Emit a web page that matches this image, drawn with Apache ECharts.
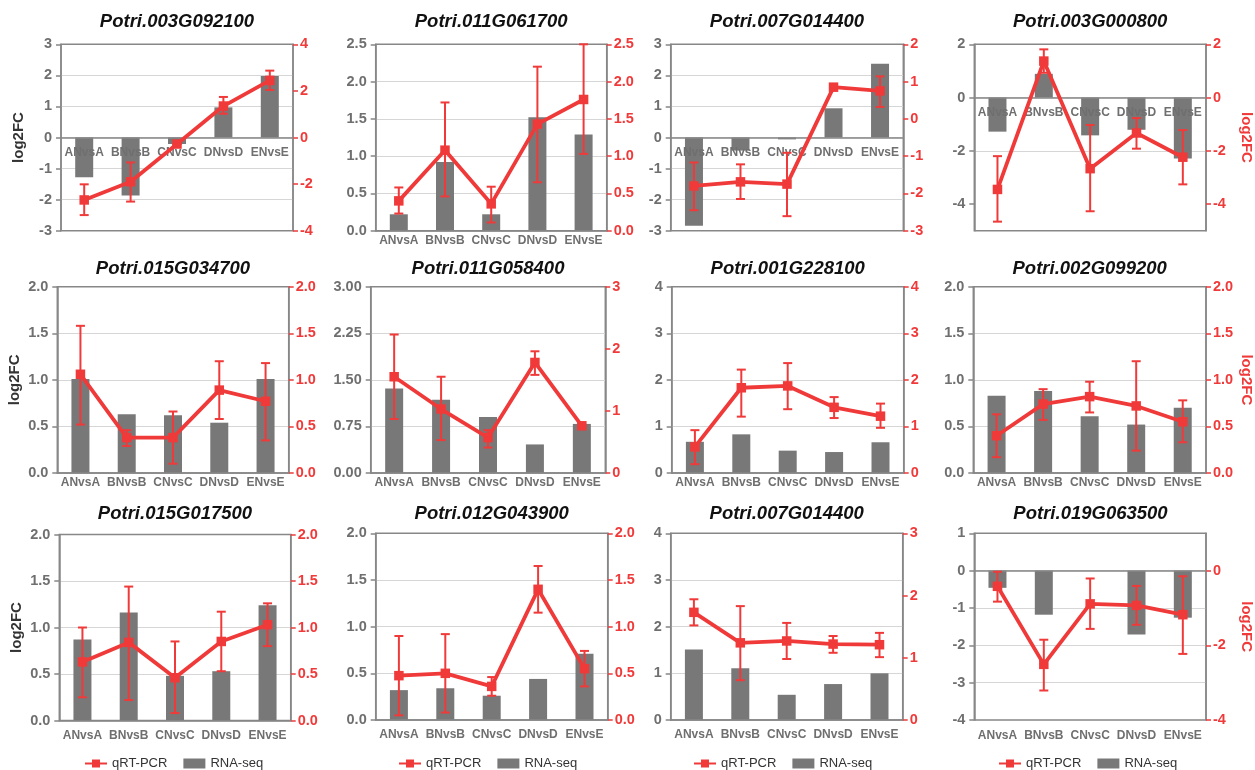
<!DOCTYPE html>
<html><head><meta charset="utf-8">
<script src="https://cdn.jsdelivr.net/npm/echarts@6/dist/echarts.min.js"></script>
<style>html,body{margin:0;padding:0;background:#fff}#c{width:1255px;height:770px}</style>
</head><body><div id="c"></div>
<script>
// ---------------- DATA ----------------
const categories = ['ANvsA', 'BNvsB', 'CNvsC', 'DNvsD', 'ENvsE'];
const titles = [
  'Potri.003G092100', 'Potri.011G061700', 'Potri.007G014400', 'Potri.003G000800',
  'Potri.015G034700', 'Potri.011G058400', 'Potri.001G228100', 'Potri.002G099200',
  'Potri.015G017500', 'Potri.012G043900', 'Potri.007G014400', 'Potri.019G063500'
];
// RNA-seq log2FC (bars, left axis)
const rnaSeq = [
  [-1.28, -1.87, -0.21, 0.97, 1.98],
  [0.22, 0.92, 0.22, 1.52, 1.29],
  [-2.84, -0.42, -0.06, 0.94, 2.37],
  [-1.28, 0.89, -1.42, -1.21, -2.29],
  [1.01, 0.63, 0.62, 0.54, 1.01],
  [1.36, 1.18, 0.90, 0.46, 0.79],
  [0.67, 0.83, 0.48, 0.45, 0.66],
  [0.83, 0.88, 0.61, 0.52, 0.70],
  [0.87, 1.16, 0.48, 0.53, 1.24],
  [0.32, 0.34, 0.26, 0.44, 0.71],
  [1.51, 1.11, 0.54, 0.77, 1.00],
  [-0.46, -1.18, 0, -1.71, -1.26]
];
// qRT-PCR log2FC (line, right axis)
const qrtPcr = [
  [-2.68, -1.90, -0.28, 1.35, 2.45],
  [0.40, 1.08, 0.36, 1.43, 1.76],
  [-1.80, -1.69, -1.75, 0.85, 0.75],
  [-3.45, 1.37, -2.67, -1.33, -2.24],
  [1.06, 0.38, 0.38, 0.89, 0.77],
  [1.55, 1.03, 0.57, 1.78, 0.76],
  [0.56, 1.83, 1.87, 1.41, 1.22],
  [0.40, 0.74, 0.82, 0.72, 0.55],
  [0.63, 0.84, 0.46, 0.85, 1.03],
  [0.475, 0.50, 0.36, 1.40, 0.55],
  [1.73, 1.24, 1.27, 1.22, 1.21],
  [-0.42, -2.51, -0.89, -0.93, -1.18]
];
// error bar ends (right axis units)
const errLow = [
  [-3.33, -2.75, -0.28, 1.02, 2.04],
  [0.23, 0.46, 0.11, 0.65, 1.03],
  [-2.45, -2.15, -2.61, 0.77, 0.32],
  [-4.66, 0.93, -4.27, -1.92, -3.26],
  [0.52, 0.29, 0.10, 0.58, 0.35],
  [0.87, 0.53, 0.41, 1.58, 0.76],
  [0.19, 1.21, 1.37, 1.18, 0.97],
  [0.17, 0.57, 0.65, 0.24, 0.33],
  [0.25, 0.22, 0.08, 0.53, 0.80],
  [0.05, 0.08, 0.26, 1.15, 0.36],
  [1.52, 0.64, 0.98, 1.08, 1.01],
  [-0.83, -3.21, -1.56, -1.45, -2.23]
];
const errHigh = [
  [-2.01, -1.07, -0.28, 1.74, 2.87],
  [0.58, 1.72, 0.59, 2.20, 2.50],
  [-1.17, -1.22, -0.91, 0.91, 1.14],
  [-2.20, 1.81, -1.03, -0.77, -1.22],
  [1.58, 0.46, 0.66, 1.20, 1.18],
  [2.23, 1.55, 0.69, 1.96, 0.76],
  [0.92, 2.22, 2.36, 1.63, 1.49],
  [0.63, 0.90, 0.98, 1.20, 0.78],
  [1.00, 1.44, 0.85, 1.17, 1.26],
  [0.90, 0.92, 0.46, 1.65, 0.74],
  [1.94, 1.83, 1.56, 1.35, 1.40],
  [-0.03, -1.85, -0.21, -0.41, -0.15]
];
// tick labels
const leftTickLabels = [
  ['-3', '-2', '-1', '0', '1', '2', '3'],
  ['0.0', '0.5', '1.0', '1.5', '2.0', '2.5'],
  ['-3', '-2', '-1', '0', '1', '2', '3'],
  ['-4', '-2', '0', '2'],
  ['0.0', '0.5', '1.0', '1.5', '2.0'],
  ['0.00', '0.75', '1.50', '2.25', '3.00'],
  ['0', '1', '2', '3', '4'],
  ['0.0', '0.5', '1.0', '1.5', '2.0'],
  ['0.0', '0.5', '1.0', '1.5', '2.0'],
  ['0.0', '0.5', '1.0', '1.5', '2.0'],
  ['0', '1', '2', '3', '4'],
  ['-4', '-3', '-2', '-1', '0', '1']
];
const rightTickLabels = [
  ['-4', '-2', '0', '2', '4'],
  ['0.0', '0.5', '1.0', '1.5', '2.0', '2.5'],
  ['-3', '-2', '-1', '0', '1', '2'],
  ['-4', '-2', '0', '2'],
  ['0.0', '0.5', '1.0', '1.5', '2.0'],
  ['0', '1', '2', '3'],
  ['0', '1', '2', '3', '4'],
  ['0.0', '0.5', '1.0', '1.5', '2.0'],
  ['0.0', '0.5', '1.0', '1.5', '2.0'],
  ['0.0', '0.5', '1.0', '1.5', '2.0'],
  ['0', '1', '2', '3'],
  ['-4', '-2', '0']
];
const leftRange = [[-3, 3], [0, 2.5], [-3, 3], [-5, 2], [0, 2], [0, 3], [0, 4], [0, 2], [0, 2], [0, 2], [0, 4], [-4, 1]];
const rightRange = [[-4, 4], [0, 2.5], [-3, 2], [-5, 2], [0, 2], [0, 3], [0, 4], [0, 2], [0, 2], [0, 2], [0, 3], [-4, 1]];
const axisTitle = 'log2FC';
const legendNames = ['qRT-PCR', 'RNA-seq'];

// ---------------- LAYOUT ----------------
const boxes = [ // [left, top, right, bottom]
  [61, 44.3, 293, 230.7], [375.7, 44.3, 606.7, 230.7], [670.7, 44.3, 903.3, 230.7], [974.3, 44.3, 1206, 230.7],
  [57.3, 286.7, 288.7, 473], [370.7, 286.7, 605.3, 473], [671.7, 286.7, 903.7, 473], [973.3, 286.7, 1206, 473],
  [59.3, 534.5, 290.7, 720.5], [375.7, 533.3, 607.7, 720], [670.7, 533.3, 902.7, 720], [974.3, 533.3, 1206.7, 720]
];
const titleCenterY = [23, 270, 515];
const legendLeft = [84, 398, 693, 998];
const RED = '#f03a3a', BAR = '#787878', AXIS = '#878787', LABEL = '#6f6f6f', GRID = '#d6d6d6';
const FONT = '"Liberation Sans", Arial, Helvetica, sans-serif';

function fmt(labels) {
  return function (v) {
    for (const s of labels) if (Math.abs(parseFloat(s) - v) < 1e-6) return s;
    return '';
  };
}

const option = {
  animation: false,
  textStyle: { fontFamily: FONT },
  title: [], grid: [], xAxis: [], yAxis: [], series: [], legend: []
};

let xIdx = 0;
const mainXOf = [];
for (let i = 0; i < 12; i++) {
  const [l, t, r, b] = boxes[i];
  const row = Math.floor(i / 4), col = i % 4;
  const hasNeg = leftRange[i][0] < 0;
  const bottomLabels = (i === 11);
  option.grid.push({ left: l, top: t, width: r - l, height: b - t, show: true,
    borderColor: AXIS, borderWidth: 1.5, backgroundColor: 'transparent' });
  option.title.push({ text: titles[i], left: (l + r) / 2, top: titleCenterY[row] - 11, padding: 0,
    textAlign: 'center',
    textStyle: { fontSize: 18.5, fontWeight: 'bold', fontStyle: 'italic', color: '#111', fontFamily: FONT } });

  const leftIdx = 2 * i, rightIdx = 2 * i + 1;
  const lVals = leftTickLabels[i].map(parseFloat);
  const rVals = rightTickLabels[i].map(parseFloat);
  option.yAxis.push({
    type: 'value', gridIndex: i, position: 'left', min: leftRange[i][0], max: leftRange[i][1],
    axisLine: { show: true, lineStyle: { color: AXIS, width: 1.5 } },
    axisTick: { show: true, length: 5, customValues: lVals, lineStyle: { color: AXIS, width: 1.5 } },
    axisLabel: { customValues: lVals, formatter: fmt(leftTickLabels[i]), color: LABEL, fontSize: 14.5, fontWeight: 'bold', margin: 9, fontFamily: FONT },
    splitLine: { show: true, showMinLine: false, showMaxLine: false, lineStyle: { color: GRID, width: 1.2 } },
    name: col === 0 ? axisTitle : '', nameLocation: 'middle', nameGap: 35,
    nameTextStyle: { fontSize: 15, fontWeight: 'bold', color: '#333', fontFamily: FONT }
  });
  option.yAxis.push({
    type: 'value', gridIndex: i, position: 'right', min: rightRange[i][0], max: rightRange[i][1],
    axisLine: { show: true, lineStyle: { color: AXIS, width: 1.5 } },
    axisTick: { show: true, length: 5, customValues: rVals, lineStyle: { color: RED, width: 1.5 } },
    axisLabel: { customValues: rVals, formatter: fmt(rightTickLabels[i]), color: RED, fontSize: 14.5, fontWeight: 'bold', margin: 7, fontFamily: FONT },
    splitLine: { show: false },
    name: col === 3 ? axisTitle : '', nameLocation: 'middle', nameGap: 33, nameRotate: -90,
    nameTextStyle: { fontSize: 15, fontWeight: 'bold', color: RED, fontFamily: FONT }
  });

  const margin = (row === 2 || hasNeg) ? 9 : 4;
  option.xAxis.push({
    type: 'category', gridIndex: i, data: categories, z: 3, position: 'bottom', offset: 0,
    axisLine: { onZero: false, lineStyle: { color: AXIS, width: 1.5 } },
    axisTick: { alignWithLabel: true, length: 5, lineStyle: { color: AXIS, width: 1.5 } },
    axisLabel: { show: !bottomLabels, interval: 0, margin: margin, color: LABEL, fontSize: 12, fontWeight: 'bold', fontFamily: FONT },
    splitLine: { show: false }
  });
  const mainX = xIdx++;
  mainXOf.push(mainX);
  if (bottomLabels) {
    option.xAxis.push({
      type: 'category', gridIndex: i, data: categories, position: 'bottom', z: 3,
      axisLine: { show: false, onZero: false }, axisTick: { show: false },
      axisLabel: { interval: 0, margin: 10, color: LABEL, fontSize: 12, fontWeight: 'bold', fontFamily: FONT }
    });
    xIdx++;
  }

  option.series.push({
    type: 'bar', name: legendNames[1], xAxisIndex: mainX, yAxisIndex: leftIdx,
    data: rnaSeq[i], barWidth: 18, itemStyle: { color: BAR }, z: 2
  });
  option.series.push({
    type: 'custom', name: 'err' + i, xAxisIndex: mainX, yAxisIndex: rightIdx, z: 4,
    data: categories.map((c, j) => [j, errLow[i][j], errHigh[i][j]]),
    encode: { x: 0, y: [1, 2] },
    renderItem: function (params, api) {
      const xi = api.value(0);
      const lo = api.coord([xi, api.value(1)]);
      const hi = api.coord([xi, api.value(2)]);
      const w = 4.5;
      const st = { stroke: RED, lineWidth: 2 };
      return { type: 'group', children: [
        { type: 'line', shape: { x1: lo[0], y1: lo[1], x2: hi[0], y2: hi[1] }, style: st },
        { type: 'line', shape: { x1: lo[0] - w, y1: lo[1], x2: lo[0] + w, y2: lo[1] }, style: st },
        { type: 'line', shape: { x1: hi[0] - w, y1: hi[1], x2: hi[0] + w, y2: hi[1] }, style: st }
      ] };
    }
  });
  option.series.push({
    type: 'line', name: legendNames[0], xAxisIndex: mainX, yAxisIndex: rightIdx,
    data: qrtPcr[i], symbol: 'rect', symbolSize: 9.5, z: 5,
    lineStyle: { color: RED, width: 3.8 }, itemStyle: { color: RED }
  });
}

for (let c = 0; c < 4; c++) {
  option.legend.push({
    left: legendLeft[c], top: 757, padding: 0, itemGap: 16, itemWidth: 22, itemHeight: 10,
    textStyle: { fontSize: 13, color: '#333', fontFamily: FONT },
    data: [legendNames[0], { name: legendNames[1], icon: 'rect' }],
    selectedMode: false
  });
}

const chart = echarts.init(document.getElementById('c'), null, { renderer: 'canvas' });
chart.setOption(option);
// move the category axis of panels with negative values onto the zero line of the left axis
for (let i = 0; i < 12; i++) {
  if (leftRange[i][0] < 0) {
    const y0 = chart.convertToPixel({ yAxisIndex: 2 * i }, 0);
    const yb = chart.convertToPixel({ yAxisIndex: 2 * i }, leftRange[i][0]);
    option.xAxis[mainXOf[i]].offset = y0 - yb;
  }
}
chart.setOption(option);
</script>
</body></html>
